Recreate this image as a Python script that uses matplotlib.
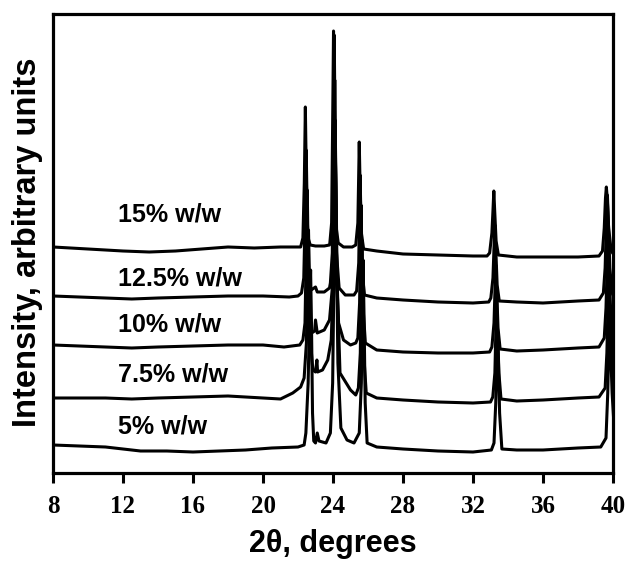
import matplotlib.pyplot as plt

# XRD patterns, intensity in arbitrary units (traces already offset for stacking)
x_15 = [8.0, 9.0, 10.0, 11.0, 12.0, 13.5, 15.0, 16.5, 18.0, 19.5, 21.0, 22.0,
        22.15, 22.28, 22.36, 22.42, 22.48, 22.56, 22.7, 23.0, 23.5, 23.8,
        23.82, 23.92, 23.98, 24.03, 24.08, 24.15, 24.3, 24.6, 25.1,
        25.3, 25.42, 25.46, 25.5, 25.55, 25.62, 25.75, 26.5, 28.0, 30.0, 32.0, 32.8,
        32.95, 33.08, 33.14, 33.19, 33.24, 33.32, 33.45, 34.5, 36.0, 38.0, 39.2,
        39.4, 39.5, 39.57, 39.62, 39.67, 39.75, 39.9, 40.1]
y_15 = [226, 225, 224, 223, 222, 221, 222, 224, 226, 225, 226, 226,
        226, 235, 290, 366, 290, 236, 228, 227, 227, 228,
        230, 250, 350, 442, 350, 250, 230, 226, 226,
        228, 250, 290, 331, 285, 240, 224, 222, 219, 218, 217, 217,
        220, 240, 262, 282, 262, 232, 218, 216, 216, 216, 217,
        222, 245, 275, 286, 275, 245, 222, 217]

x_125 = [8.0, 9.5, 11.0, 12.5, 14.0, 16.0, 18.0, 20.0, 21.5, 22.0,
         22.2, 22.33, 22.41, 22.47, 22.53, 22.62, 22.75, 23.0, 23.1, 23.5, 23.8,
         23.85, 23.96, 24.02, 24.07, 24.12, 24.2, 24.35, 24.7, 25.2,
         25.35, 25.47, 25.51, 25.55, 25.6, 25.67, 25.8, 26.5, 28.0, 30.0, 32.0, 32.9,
         33.02, 33.14, 33.2, 33.25, 33.3, 33.38, 33.5, 34.5, 36.0, 38.0, 39.2,
         39.45, 39.55, 39.63, 39.68, 39.73, 39.82, 39.95, 40.1]
y_125 = [177, 176, 175, 174, 175, 176, 177, 177, 176, 177,
         180, 195, 260, 323, 255, 195, 183, 186, 181, 181, 185,
         190, 220, 340, 438, 340, 220, 185, 178, 178,
         182, 210, 255, 298, 250, 200, 178, 175, 173, 171, 170, 171,
         175, 195, 225, 248, 225, 188, 172, 171, 170, 172, 173,
         180, 205, 255, 278, 255, 205, 180, 174]

x_10 = [8.0, 9.5, 11.0, 12.5, 14.0, 16.0, 18.0, 20.0, 21.2, 22.1,
        22.28, 22.4, 22.47, 22.53, 22.58, 22.66, 22.78, 22.95, 23.0, 23.1, 23.5, 23.8, 23.95,
        24.05, 24.1, 24.15, 24.22, 24.32, 24.6, 25.0, 25.3,
        25.42, 25.52, 25.56, 25.6, 25.65, 25.72, 25.85, 26.5, 28.0, 30.0, 32.0, 32.95,
        33.08, 33.2, 33.26, 33.3, 33.35, 33.43, 33.55, 34.5, 36.0, 38.0, 39.2,
        39.5, 39.6, 39.67, 39.72, 39.77, 39.86, 40.0, 40.1]
y_10 = [128, 127, 126, 125, 126, 127, 128, 128, 126, 128,
        133, 150, 220, 283, 215, 155, 140, 142, 153, 140, 143, 153, 183,
        300, 393, 300, 190, 150, 133, 128, 130,
        135, 170, 225, 268, 220, 165, 130, 123, 121, 120, 120, 121,
        126, 150, 185, 208, 185, 145, 124, 122, 123, 125, 126,
        135, 165, 210, 233, 210, 165, 135, 128]

x_75 = [8.0, 9.5, 11.0, 12.5, 14.0, 16.0, 18.0, 20.0, 21.0, 21.7, 22.15,
        22.35, 22.48, 22.55, 22.6, 22.65, 22.72, 22.85, 23.0, 23.08, 23.12, 23.4, 23.7, 23.9,
        24.02, 24.07, 24.12, 24.17, 24.24, 24.4, 25.0, 25.3,
        25.45, 25.56, 25.61, 25.65, 25.7, 25.77, 25.9, 26.5, 28.0, 30.0, 32.0, 33.0,
        33.13, 33.25, 33.31, 33.35, 33.4, 33.48, 33.6, 34.5, 36.0, 38.0, 39.2,
        39.55, 39.65, 39.71, 39.76, 39.81, 39.9, 40.05]
y_75 = [75, 75, 75, 74, 75, 76, 77, 75, 74, 80, 86,
        95, 130, 200, 243, 200, 130, 103, 101, 113, 101, 103, 113, 133,
        200, 290, 353, 290, 190, 100, 83, 78,
        85, 120, 190, 233, 185, 115, 80, 75, 73, 71, 70, 71,
        76, 100, 145, 173, 145, 100, 74, 72, 73, 75, 76,
        85, 120, 165, 193, 165, 120, 85]

x_5 = [8.0, 9.5, 11.0, 12.0, 13.0, 14.5, 16.0, 17.5, 19.0, 20.5, 22.0, 22.35,
       22.45, 22.58, 22.66, 22.72, 22.77, 22.83, 22.9, 23.0, 23.1, 23.2, 23.6, 23.85,
       23.98, 24.07, 24.14, 24.2, 24.28, 24.45, 24.8, 25.2,
       25.5, 25.62, 25.68, 25.72, 25.77, 25.84, 25.95, 26.5, 28.0, 30.0, 32.0, 33.05,
       33.2, 33.3, 33.36, 33.4, 33.45, 33.52, 33.65, 34.5, 36.0, 38.0, 39.3,
       39.6, 39.7, 39.76, 39.8, 39.85, 39.95, 40.1]
y_5 = [28, 27, 26, 24, 22, 22, 21, 22, 23, 25, 26, 28,
       40, 90, 160, 203, 150, 60, 32, 30, 40, 32, 30, 40,
       90, 220, 313, 220, 110, 45, 33, 30,
       40, 90, 170, 213, 160, 70, 30, 26, 24, 22, 21, 23,
       30, 70, 115, 143, 115, 60, 24, 23, 23, 25, 26,
       35, 80, 130, 153, 130, 80, 35]

labels = ['15% w/w', '12.5% w/w', '10% w/w', '7.5% w/w', '5% w/w']
label_y = [259, 195, 148, 99, 46]
xticks = [8, 12, 16, 20, 24, 28, 32, 36, 40]

fig = plt.figure(figsize=(6.28, 5.61), dpi=100)
ax = fig.add_axes([53/628, 88/561, 560/628, 459/561])

for xs, ys in [(x_15, y_15), (x_125, y_125), (x_10, y_10), (x_75, y_75), (x_5, y_5)]:
    ax.plot(xs, ys, color='black', lw=2.2, solid_joinstyle='round')

for lab, ly in zip(labels, label_y):
    ax.text(11.7, ly, lab, fontsize=18, fontweight='bold', family='Liberation Sans',
            va='center', ha='left')

ax.set_xlim(8, 40)
ax.set_ylim(0, 459)
ax.set_xticks(xticks, labels=[str(t) for t in xticks], fontsize=18,
              fontweight='bold', family='Liberation Serif')
ax.set_yticks([])
ax.tick_params(axis='x', direction='out', length=7, width=2.2, pad=9)
for s in ax.spines.values():
    s.set_linewidth(2.3)

ax.set_xlabel('2\u03b8, degrees', fontsize=22, fontweight='bold', family='Liberation Sans')
ax.xaxis.set_label_coords(0.5, -0.122)
fig.text(28/628, 1 - 242/561, 'Intensity, arbitrary units', rotation=90,
         fontsize=23.5, fontweight='bold', family='Liberation Sans', ha='center', va='center')

fig.savefig('out.png', dpi=100)
